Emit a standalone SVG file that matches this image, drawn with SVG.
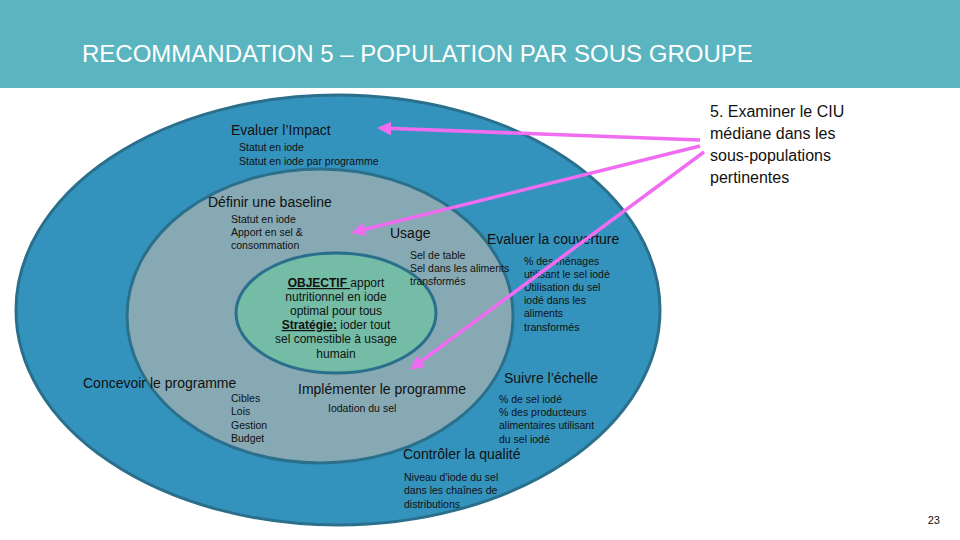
<svg xmlns="http://www.w3.org/2000/svg" width="960" height="540" viewBox="0 0 960 540">
<defs>
<style>
text{font-family:"Liberation Sans",Arial,sans-serif;fill:#111}
.h{font-size:14px}
.s{font-size:10.5px}
.c{font-size:12px}
.arr{stroke:#f06cf0;stroke-width:3.5;fill:none;marker-end:url(#ah)}
</style>
<marker id="ah" viewBox="0 0 10 10" refX="8" refY="5" markerWidth="4" markerHeight="4" orient="auto"><path d="M0,0L10,5L0,10z" fill="#f06cf0"/></marker>
</defs>
<rect width="960" height="540" fill="#fff"/>
<rect width="960" height="88" fill="#5bb5c0"/>
<text x="82" y="62" style="font-size:24px;fill:#fff">RECOMMANDATION 5 – POPULATION PAR SOUS GROUPE</text>
<g id="outer"><ellipse cx="338" cy="310" rx="322" ry="215" fill="#3493bd" stroke="#2a6f8c" stroke-width="3"/></g>
<g id="middle"><ellipse cx="320" cy="316" rx="193" ry="147" fill="#86a9b3" stroke="#2a6f8c" stroke-width="3"/></g>
<g id="inner"><ellipse cx="336" cy="313" rx="100" ry="60" fill="#74bca6" stroke="#2a6f8c" stroke-width="3"/>
<text class="c" text-anchor="middle"><tspan x="336" y="287"><tspan font-weight="bold" text-decoration="underline">OBJECTIF </tspan>apport</tspan><tspan x="336" y="301">nutritionnel en iode</tspan><tspan x="336" y="315">optimal pour tous</tspan><tspan x="336" y="329"><tspan font-weight="bold" text-decoration="underline">Stratégie:</tspan> ioder tout</tspan><tspan x="336" y="343">sel comestible à usage</tspan><tspan x="336" y="358">humain</tspan></text></g>
<g id="impact"><text class="h" x="231" y="135">Evaluer l’Impact</text><text class="s"><tspan x="239" y="151">Statut en iode</tspan><tspan x="239" y="165">Statut en iode par programme</tspan></text></g>
<g id="baseline"><text class="h" x="208" y="207">Définir une baseline</text><text class="s"><tspan x="231" y="223">Statut en iode</tspan><tspan x="231" y="236">Apport en sel &amp;</tspan><tspan x="231" y="249">consommation</tspan></text></g>
<g id="usage"><text class="h" x="390" y="238">Usage</text><text class="s"><tspan x="410" y="259">Sel de table</tspan><tspan x="410" y="272">Sel dans les aliments</tspan><tspan x="410" y="285">transformés</tspan></text></g>
<g id="couverture"><text class="h" x="487" y="244">Evaluer la couverture</text><text class="s"><tspan x="524" y="265">% des ménages</tspan><tspan x="524" y="278">utilisant le sel iodé</tspan><tspan x="524" y="291">Utilisation du sel</tspan><tspan x="524" y="304">iodé dans les</tspan><tspan x="524" y="317">aliments</tspan><tspan x="524" y="331">transformés</tspan></text></g>
<g id="concevoir"><text class="h" x="83" y="388">Concevoir le  programme</text><text class="s"><tspan x="231" y="402">Cibles</tspan><tspan x="231" y="415">Lois</tspan><tspan x="231" y="429">Gestion</tspan><tspan x="231" y="442">Budget</tspan></text></g>
<g id="implementer"><text class="h" x="298" y="394">Implémenter le  programme</text><text class="s" x="328" y="412">Iodation du sel</text></g>
<g id="suivre"><text class="h" x="504" y="383">Suivre l’échelle</text><text class="s"><tspan x="499" y="403">% de sel iodé</tspan><tspan x="499" y="416">% des producteurs</tspan><tspan x="499" y="429">alimentaires utilisant</tspan><tspan x="499" y="443">du sel iodé</tspan></text></g>
<g id="qualite"><text class="h" x="403" y="459">Contrôler la qualité</text><text class="s"><tspan x="404" y="481">Niveau d'iode du sel</tspan><tspan x="404" y="494">dans les chaînes de</tspan><tspan x="404" y="508">distributions</tspan></text></g>
<g id="note"><text style="font-size:16px"><tspan x="710" y="117">5. Examiner le CIU</tspan><tspan x="710" y="139">médiane dans les</tspan><tspan x="710" y="161">sous-populations</tspan><tspan x="710" y="183">pertinentes</tspan></text></g>
<g id="connectors">
<path class="arr" d="M700,140L380,128"/>
<path class="arr" d="M700,146L354,232"/>
<path class="arr" d="M704,152L412,368"/>
</g>
<text x="940" y="524" text-anchor="end" style="font-size:11px">23</text>
</svg>
